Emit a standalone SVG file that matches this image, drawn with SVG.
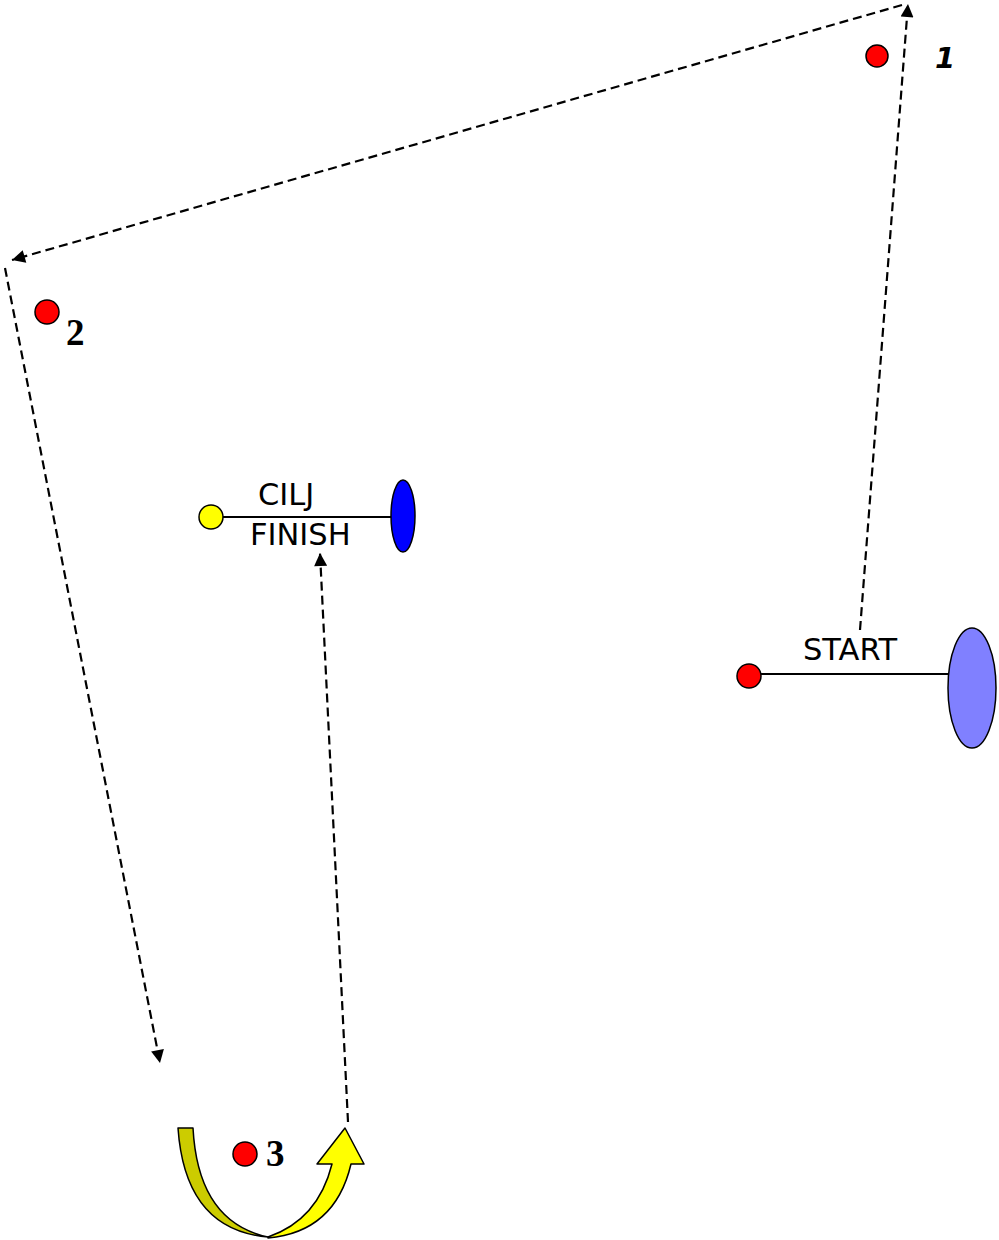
<svg xmlns="http://www.w3.org/2000/svg" width="999" height="1240" viewBox="0 0 999 1240">
<style>
.dash{fill:none;stroke:#000;stroke-width:2.2;stroke-dasharray:9 5}
.dot{fill:#ff0000;stroke:#000;stroke-width:1.5}
.lbl{font-family:"DejaVu Sans",sans-serif;font-size:30.5px;fill:#000}
.num{font-family:"Liberation Serif",serif;font-weight:bold;font-size:37px;fill:#000}
</style>
<defs>
<marker id="ah2" viewBox="0 0 10 10" refX="10" refY="5" markerWidth="15" markerHeight="13" markerUnits="userSpaceOnUse" orient="auto">
<path d="M0,0 L10,5 L0,10 z" fill="#000"/>
</marker>
</defs>
<g id="connectors">
<line class="dash" x1="860" y1="630" x2="908" y2="4" marker-end="url(#ah2)"/>
<line class="dash" x1="902" y1="5" x2="12" y2="260" marker-end="url(#ah2)"/>
<line class="dash" x1="5" y1="268" x2="160" y2="1063" marker-end="url(#ah2)"/>
<line class="dash" x1="348" y1="1122" x2="320" y2="553" marker-end="url(#ah2)"/>
</g>
<g id="cp1">
<circle class="dot" cx="877" cy="56" r="11"/>
<text x="935" y="68" font-family="DejaVu Sans,sans-serif" font-weight="bold" font-style="italic" font-size="29">1</text>
</g>
<g id="cp2">
<circle class="dot" cx="47" cy="312" r="12"/>
<text class="num" x="66" y="345">2</text>
</g>
<g id="cp3">
<circle class="dot" cx="245" cy="1154" r="12"/>
<text class="num" x="266" y="1166">3</text>
</g>
<g id="finish">
<line x1="222" y1="517" x2="392" y2="517" stroke="#000" stroke-width="2"/>
<circle cx="211" cy="517" r="12" fill="#ffff00" stroke="#000" stroke-width="1.5"/>
<ellipse cx="403" cy="516" rx="12" ry="36" fill="#0000ff" stroke="#000" stroke-width="1.5"/>
<text class="lbl" x="258" y="505">CILJ</text>
<text class="lbl" x="250" y="545">FINISH</text>
</g>
<g id="start">
<line x1="760" y1="674" x2="949" y2="674" stroke="#000" stroke-width="2"/>
<circle class="dot" cx="749" cy="676" r="12"/>
<ellipse cx="972" cy="688" rx="24" ry="60" fill="#8080ff" stroke="#000" stroke-width="1.5"/>
<text class="lbl" x="803" y="660">START</text>
</g>
<g id="uturn" stroke="#000" stroke-width="1.5" stroke-linejoin="round">
<path d="M178,1128 L193,1128 Q198,1222 268,1237 Q185,1230 178,1128 Z" fill="#cccc00"/>
<path d="M268,1237 Q318,1220 332,1164 L317,1164 L345,1128 L364,1164 L351,1164 Q335,1232 268,1238 Z" fill="#ffff00"/>
</g>
</svg>
